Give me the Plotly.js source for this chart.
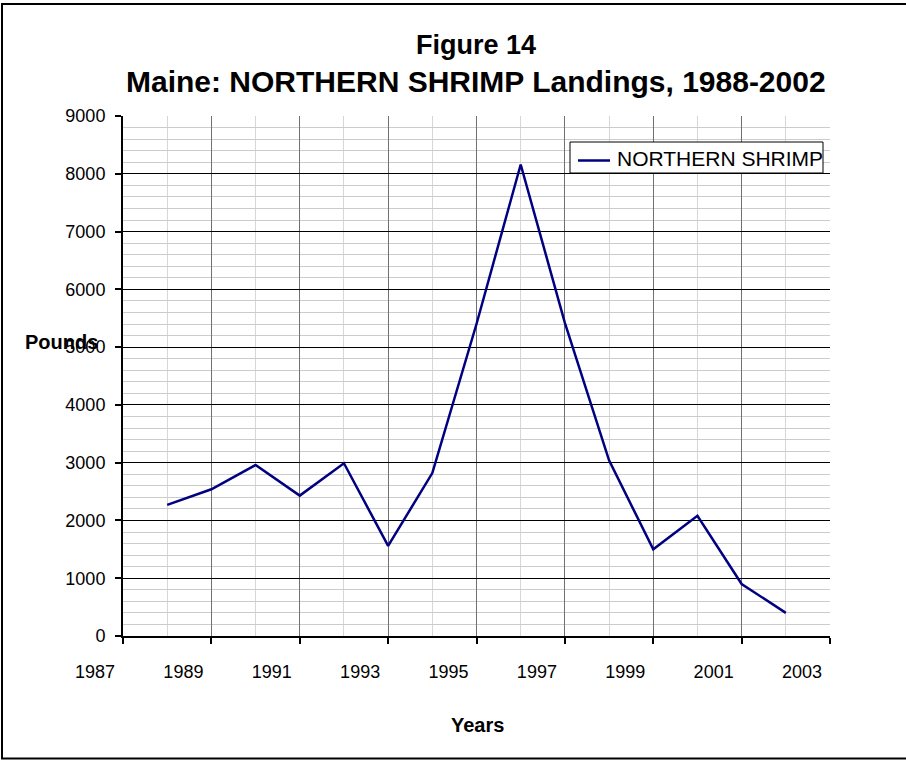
<!DOCTYPE html>
<html>
<head>
<meta charset="utf-8">
<script src="https://cdn.plot.ly/plotly-3.0.1.min.js"></script>
<style>
  html, body { margin: 0; padding: 0; background: #ffffff; }
  #chart { width: 906px; height: 760px; }
</style>
</head>
<body>
<div id="chart"></div>
<script>
const years = [1988, 1989, 1990, 1991, 1992, 1993, 1994, 1995, 1996, 1997, 1998, 1999, 2000, 2001, 2002];
const shrimpPounds = [2270, 2540, 2960, 2430, 2990, 1560, 2820, 5400, 8160, 5420, 3040, 1500, 2080, 900, 400];
const seriesName = 'NORTHERN SHRIMP';
const titleLines = ['Figure 14', 'Maine: NORTHERN SHRIMP Landings, 1988-2002'];
const xTitle = 'Years';
const yTitle = 'Pounds';

const FONT = 'Liberation Sans, Arial, sans-serif';
const LINE_COLOR = '#000080';

// layout geometry (pixels)
const W = 906, H = 760;
const M = { l: 123, r: 76, t: 116, b: 124 };
const PW = W - M.l - M.r, PH = H - M.t - M.b;
const px = x => (x - M.l) / PW;
const py = y => (H - M.b - y) / PH;

const trace = {
  x: years,
  y: shrimpPounds,
  type: 'scatter',
  mode: 'lines',
  name: seriesName,
  line: { color: LINE_COLOR, width: 2.5 },
  showlegend: false
};

const layout = {
  width: W,
  height: H,
  margin: M,
  paper_bgcolor: '#ffffff',
  plot_bgcolor: '#ffffff',
  font: { family: FONT, color: '#000000', size: 18 },
  showlegend: false,
  xaxis: {
    range: [1987, 2003],
    tick0: 1987,
    dtick: 2,
    ticks: 'outside',
    ticklen: 6,
    tickwidth: 2,
    tickcolor: '#000000',
    ticklabelshift: -28,
    ticklabelstandoff: 12,
    showline: true,
    linecolor: '#000000',
    linewidth: 2,
    showgrid: true,
    gridcolor: '#707070',
    gridwidth: 1,
    zeroline: false,
    tickfont: { family: FONT, size: 18, color: '#000000' },
    minor: { dtick: 1, showgrid: true, gridcolor: '#d6d6d6', gridwidth: 1, ticks: '' },
    fixedrange: true
  },
  yaxis: {
    range: [0, 9000],
    tick0: 0,
    dtick: 1000,
    ticks: 'outside',
    ticklen: 6,
    tickwidth: 2,
    tickcolor: '#000000',
    ticklabelstandoff: 6,
    showline: true,
    linecolor: '#000000',
    linewidth: 2,
    showgrid: true,
    gridcolor: '#000000',
    gridwidth: 1,
    zeroline: false,
    tickfont: { family: FONT, size: 18, color: '#000000' },
    minor: { dtick: 200, showgrid: true, gridcolor: '#cccccc', gridwidth: 1, ticks: '' },
    fixedrange: true
  },
  annotations: [
    {
      text: '<b>' + titleLines[0] + '</b>',
      xref: 'paper', yref: 'paper',
      x: px(476), y: py(45),
      xanchor: 'center', yanchor: 'middle',
      showarrow: false,
      font: { family: FONT, size: 27, color: '#000000' }
    },
    {
      text: '<b>' + titleLines[1] + '</b>',
      xref: 'paper', yref: 'paper',
      x: px(476), y: py(81),
      xanchor: 'center', yanchor: 'middle',
      showarrow: false,
      font: { family: FONT, size: 30, color: '#000000' }
    },
    {
      text: '<b>' + yTitle + '</b>',
      xref: 'paper', yref: 'paper',
      x: px(61), y: py(342),
      xanchor: 'center', yanchor: 'middle',
      showarrow: false,
      font: { family: FONT, size: 20, color: '#000000' }
    },
    {
      text: '<b>' + xTitle + '</b>',
      xref: 'paper', yref: 'paper',
      x: px(477), y: py(725),
      xanchor: 'center', yanchor: 'middle',
      showarrow: false,
      font: { family: FONT, size: 20, color: '#000000' }
    },
    {
      // legend label
      text: seriesName,
      xref: 'paper', yref: 'paper',
      x: px(615), y: py(158.5),
      xanchor: 'left', yanchor: 'middle',
      showarrow: false,
      font: { family: FONT, size: 21, color: '#000000' }
    }
  ],
  shapes: [
    {
      // chart frame
      type: 'rect', xref: 'paper', yref: 'paper',
      x0: px(2), x1: px(912), y0: py(758.5), y1: py(4),
      line: { color: '#000000', width: 2 },
      fillcolor: 'rgba(0,0,0,0)',
      layer: 'below'
    },
    {
      // legend box
      type: 'rect', xref: 'paper', yref: 'paper',
      x0: px(570), x1: px(823), y0: py(173), y1: py(142),
      line: { color: '#000000', width: 1 },
      fillcolor: '#ffffff',
      layer: 'above'
    },
    {
      // legend line sample
      type: 'line', xref: 'paper', yref: 'paper',
      x0: px(578), x1: px(610), y0: py(160.5), y1: py(160.5),
      line: { color: LINE_COLOR, width: 2.5 },
      layer: 'above'
    }
  ]
};

Plotly.newPlot('chart', [trace], layout, { displayModeBar: false, staticPlot: true });
</script>
</body>
</html>
